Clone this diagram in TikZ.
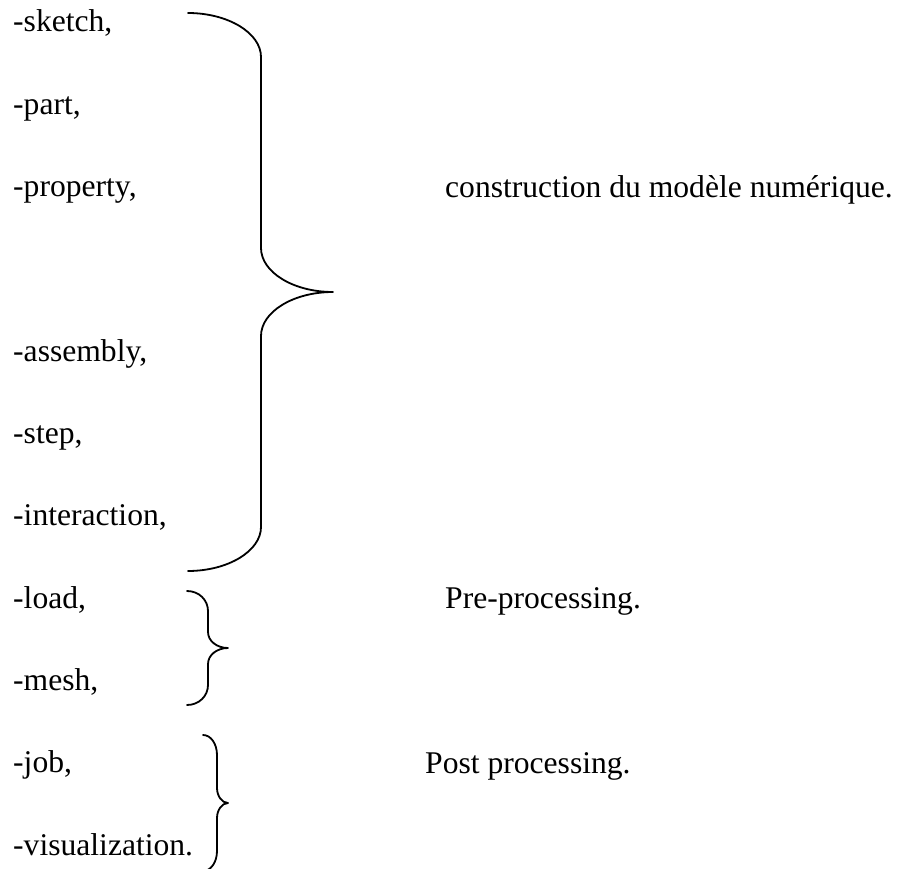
\documentclass[tikz,border=0pt]{standalone}
\usepackage{fontspec}
\setmainfont{Liberation Serif}
\usetikzlibrary{positioning}

\begin{document}
\begin{tikzpicture}[x=1pt,y=-1pt,node distance=82.3pt,
        item/.style={inner sep=0pt,anchor=base west,font=\fontsize{31.6pt}{38pt}\selectfont},
        curly/.style={line width=1.8pt,line cap=round,line join=round}]
            \useasboundingbox (0,0) rectangle (904,869);
            \clip (0,0) rectangle (904,869);

            % left column
            \node (sketch) [item] at (13,32) {-sketch,};
            \node (part) [item,below=of sketch.base west,anchor=base west] {-part,};
            \node (property) [item,below=of part.base west,anchor=base west] {-property,};
            \node (assembly) [item,below=164.6pt of property.base west,anchor=base west] {-assembly,};
            \node (stepitem) [item,below=of assembly.base west,anchor=base west] {-step,};
            \node (interaction) [item,below=of stepitem.base west,anchor=base west] {-interaction,};
            \node (load) [item,below=of interaction.base west,anchor=base west] {-load,};
            \node (mesh) [item,below=of load.base west,anchor=base west] {-mesh,};
            \node (job) [item,below=of mesh.base west,anchor=base west] {-job,};
            \node (visu) [item,below=of job.base west,anchor=base west] {-visualization.};

            % right column
            \node (model) [item] at (445,197) {construction du modèle numérique.};
            \node (pre) [item] at (445,608) {Pre-processing.};
            \node (post) [item] at (425,773) {Post processing.};

            % braces
            \draw[curly] (188,13) .. controls (228,13) and (261,33) .. (261,57) -- (261,248)
                .. controls (261,272) and (293,292) .. (333,292)
                .. controls (293,292) and (261,312) .. (261,336) -- (261,527)
                .. controls (261,551) and (228,571) .. (188,571);
            \draw[curly] (187,591) .. controls (199,591) and (208,600) .. (208,611) -- (208,632)
                .. controls (208,641) and (217,648) .. (228,648)
                .. controls (217,648) and (208,655) .. (208,664) -- (208,685)
                .. controls (208,696) and (199,705) .. (187,705);
            \draw[curly] (203,735) .. controls (211,735) and (217,744) .. (217,755) -- (217,788)
                .. controls (217,796) and (222,803) .. (228,803)
                .. controls (222,803) and (217,810) .. (217,818) -- (217,851)
                .. controls (217,862) and (211,871) .. (203,871);

        \end{tikzpicture}
\end{document}
